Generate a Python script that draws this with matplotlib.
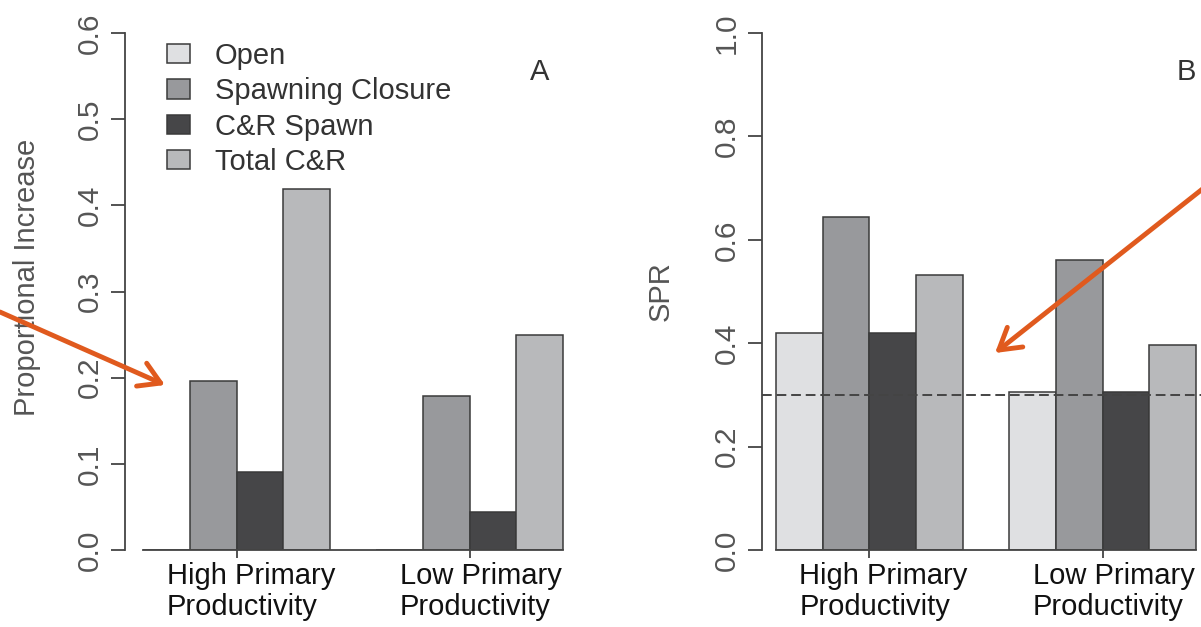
import matplotlib
matplotlib.use('Agg')
import matplotlib.pyplot as plt
from matplotlib.patches import Patch, FancyArrowPatch
import numpy as np

plt.rcParams['font.family'] = ['Liberation Sans', 'DejaVu Sans']

# data
groups = ['High Primary\nProductivity', 'Low Primary\nProductivity']
series = ['Open', 'Spawning Closure', 'C&R Spawn', 'Total C&R']
colors = ['#dfe0e2', '#98999c', '#464648', '#b8b9bb']

# panel A: proportional increase
open_a = [0.0, 0.0]
closure_a = [0.196, 0.179]
cr_spawn_a = [0.090, 0.044]
total_cr_a = [0.419, 0.249]

# panel B: SPR
open_b = [0.420, 0.305]
closure_b = [0.644, 0.561]
cr_spawn_b = [0.420, 0.305]
total_cr_b = [0.532, 0.397]
spr_ref = 0.3

W, H = 1201, 627
fig = plt.figure(figsize=(W / 100, H / 100), dpi=100)


def px_rect(left, right, bottom, top):
    # pixel box (measured from top) -> figure fraction
    return [left / W, 1 - bottom / H, (right - left) / W, (bottom - top) / H]


def draw_panel(ax, values, ymax, ystep, xleft):
    n = len(series)
    group_x = np.arange(len(groups)) * (n + 1) + 1
    for i, vals in enumerate(values):
        ax.bar(group_x + i, vals, width=1, align='edge', color=colors[i],
               edgecolor='#3a3a3a', lw=1.1, zorder=2)
    # baseline under the bars
    ax.plot([group_x[0], group_x[-1] + n], [0, 0], color='#444', lw=1.3,
            clip_on=False, zorder=3)
    ax.set_xlim(xleft, 10.4)
    ax.set_ylim(0, ymax)

    for s in ['top', 'right', 'bottom']:
        ax.spines[s].set_visible(False)
    ax.spines['left'].set_bounds(0, ymax)
    ax.spines['left'].set_color('#444')
    ax.spines['left'].set_linewidth(1.3)

    yt = np.arange(0, ymax + 1e-9, ystep)
    ax.set_yticks(yt)
    ax.set_yticklabels(['%.1f' % v for v in yt], rotation=90, va='center')
    ax.tick_params(axis='y', length=10, width=1.3, color='#444', pad=5,
                   labelsize=21.5, labelcolor='#555')

    ax.set_xticks(group_x + n / 2)
    ax.set_xticklabels([])
    ax.tick_params(axis='x', length=6, width=1.3, color='#444')
    for x, lab in zip(group_x + n / 2, groups):
        ax.annotate(lab, xy=(x, 0), xycoords='data', xytext=(-70, -12),
                    textcoords='offset pixels', ha='left', va='top',
                    fontsize=21, color='#111', linespacing=1.15,
                    annotation_clip=False)
    ax.patch.set_visible(False)


ax_a = fig.add_axes(px_rect(125, 581.5, 550, 33))
draw_panel(ax_a, [open_a, closure_a, cr_spawn_a, total_cr_a], 0.6, 0.1, 0.603)

ax_b = fig.add_axes(px_rect(762, 1214.7, 550, 33))
draw_panel(ax_b, [open_b, closure_b, cr_spawn_b, total_cr_b], 1.0, 0.2, 0.70)
ax_b.axhline(spr_ref, color='#444', lw=1.4, ls=(0, (5, 2.5)), zorder=4)

# legend in panel A
handles = [Patch(facecolor=c, edgecolor='#3a3a3a', lw=1.1) for c in colors]
leg = ax_a.legend(handles, series, loc='upper left',
                  bbox_to_anchor=(167 / W, 1 - 42 / H),
                  bbox_transform=fig.transFigure, frameon=False,
                  fontsize=21, handlelength=0.79, handleheight=0.65,
                  handletextpad=0.85, labelspacing=0.25, borderpad=0,
                  borderaxespad=0)
for t in leg.get_texts():
    t.set_color('#333')

# axis titles and panel letters
fig.text(27 / W, 1 - 277 / H, 'Proportional Increase', rotation=90,
         ha='center', va='center', fontsize=21, color='#555')
fig.text(661 / W, 1 - 291 / H, 'SPR', rotation=90,
         ha='center', va='center', fontsize=21, color='#555')
fig.text(540 / W, 1 - 72 / H, 'A', ha='center', va='center', fontsize=21, color='#333')
fig.text(1186 / W, 1 - 72 / H, 'B', ha='center', va='center', fontsize=21, color='#333')

# orange callout arrows
arrow_color = '#e05a1e'
for start, tip in [((0, 312), (165, 385)), ((1205, 187), (995, 353))]:
    fig.add_artist(FancyArrowPatch(
        posA=(start[0] / W, 1 - start[1] / H), posB=(tip[0] / W, 1 - tip[1] / H),
        transform=fig.transFigure, arrowstyle='->,head_length=0.75,head_width=0.45',
        mutation_scale=20, color=arrow_color, lw=3.5, shrinkA=0, shrinkB=0,
        zorder=10))

fig.savefig('out.png', dpi=100)
